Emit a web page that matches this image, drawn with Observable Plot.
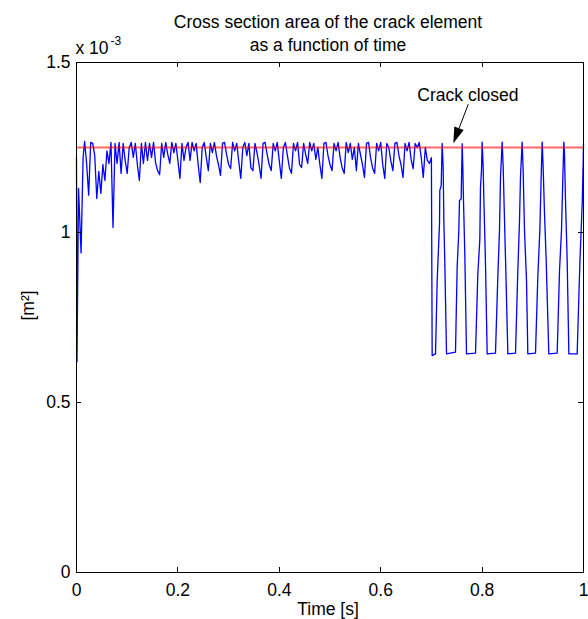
<!DOCTYPE html>
<html><head><meta charset="utf-8">
<script src="https://cdn.jsdelivr.net/npm/d3@7"></script>
<script src="https://cdn.jsdelivr.net/npm/@observablehq/plot@0.6"></script>
<style>html,body{margin:0;padding:0;background:#fff;} svg{display:block}</style>
</head><body><div id="chart"></div>
<script>
// ---- data (area in units of 10^-3 m^2, time in s) ----
const startTime = [0, 0.001, 0.004, 0.009, 0.013];
const startArea = [1.218, 0.62, 1.13, 0.94, 1.22];

const noiseTime = [
0.016,0.020,0.024,0.028,0.032,0.036,0.040,0.044,0.048,0.052,
0.056,0.060,0.064,0.068,0.072,0.076,0.080,0.084,0.088,0.092,
0.096,0.100,0.104,0.108,0.112,0.116,0.120,0.124,0.128,0.132,
0.136,0.140,0.144,0.148,0.152,0.156,0.160,0.164,0.168,0.172,
0.176,0.180,0.184,0.188,0.192,0.196,0.200,0.204,0.208,0.212,
0.216,0.220,0.224,0.228,0.232,0.236,0.240,0.244,0.248,0.252,
0.256,0.260,0.264,0.268,0.272,0.276,0.280,0.284,0.288,0.292,
0.296,0.300,0.304,0.308,0.312,0.316,0.320,0.324,0.328,0.332,
0.336,0.340,0.344,0.348,0.352,0.356,0.360,0.364,0.368,0.372,
0.376,0.380,0.384,0.388,0.392,0.396,0.400,0.404,0.408,0.412,
0.416,0.420,0.424,0.428,0.432,0.436,0.440,0.444,0.448,0.452,
0.456,0.460,0.464,0.468,0.472,0.476,0.480,0.484,0.488,0.492,
0.496,0.500,0.504,0.508,0.512,0.516,0.520,0.524,0.528,0.532,
0.536,0.540,0.544,0.548,0.552,0.556,0.560,0.564,0.568,0.572,
0.576,0.580,0.584,0.588,0.592,0.596,0.600,0.604,0.608,0.612,
0.616,0.620,0.624,0.628,0.632,0.636,0.640,0.644,0.648,0.652,
0.656,0.660,0.664,0.668,0.672,0.676,0.680,0.684,0.688,0.692,
0.696,0.700];
const noiseArea = [
1.268,1.203,1.11,1.265,1.262,1.226,1.10,1.18,1.115,1.20,
1.153,1.24,1.203,1.265,1.015,1.262,1.203,1.265,1.174,1.262,
1.212,1.174,1.25,1.265,1.221,1.262,1.20,1.153,1.262,1.203,
1.265,1.212,1.262,1.221,1.265,1.205,1.182,1.17,1.262,1.221,
1.265,1.23,1.203,1.265,1.235,1.262,1.212,1.159,1.262,1.212,
1.25,1.265,1.212,1.265,1.24,1.262,1.20,1.147,1.25,1.265,
1.22,1.182,1.262,1.235,1.265,1.226,1.20,1.168,1.262,1.265,
1.23,1.20,1.188,1.265,1.24,1.262,1.21,1.159,1.25,1.265,
1.226,1.262,1.19,1.182,1.262,1.235,1.20,1.159,1.262,1.265,
1.23,1.20,1.182,1.262,1.24,1.265,1.21,1.159,1.25,1.265,
1.226,1.19,1.174,1.262,1.24,1.265,1.20,1.191,1.262,1.23,
1.203,1.265,1.24,1.262,1.215,1.25,1.20,1.159,1.262,1.265,
1.226,1.20,1.182,1.262,1.24,1.265,1.22,1.19,1.174,1.265,
1.235,1.262,1.215,1.25,1.182,1.262,1.23,1.20,1.162,1.262,
1.265,1.22,1.19,1.174,1.262,1.24,1.265,1.20,1.159,1.262,
1.25,1.21,1.182,1.262,1.265,1.226,1.20,1.162,1.262,1.24,
1.265,1.215,1.188,1.262,1.25,1.265,1.22,1.162,1.25,1.212,
1.203,1.22];

const cycleTime = [
0.7015,0.7081,0.7114,0.7160,0.7166,0.7193,0.7212,
0.7232,0.7245,0.7265,0.7298,0.7475,0.7508,0.7541,0.7554,0.7587,0.7607,
0.7620,0.7633,0.7659,0.7692,0.7870,0.7916,0.7955,0.7968,0.7988,0.8001,
0.8021,0.8034,0.8067,0.8100,0.8264,0.8310,0.8343,0.8363,0.8396,
0.8416,0.8442,0.8468,0.8508,0.8659,0.8705,0.8738,0.8757,0.8790,
0.8810,0.8836,0.8876,0.8902,0.9053,0.9099,0.9139,0.9165,0.9185,
0.9204,0.9231,0.9264,0.9316,0.9481,0.9527,0.9566,0.9593,0.9612,
0.9625,0.9645,0.9678,0.9711,0.9875,0.9928,0.9974,0.9993,1.0];
const cycleArea = [
0.638,0.643,0.859,1.026,1.124,1.138,1.262,
1.192,1.040,0.908,0.643,0.648,0.898,1.006,1.094,1.099,1.261,
1.192,1.094,0.937,0.643,0.645,0.879,0.979,1.133,1.182,1.266,
1.192,1.104,0.908,0.643,0.645,0.869,1.006,1.163,1.266,
1.192,1.035,0.888,0.643,0.645,0.888,1.035,1.163,1.266,
1.182,1.006,0.859,0.643,0.645,0.869,1.006,1.163,1.266,
1.192,1.055,0.918,0.643,0.645,0.888,1.006,1.163,1.266,
1.231,1.094,0.918,0.643,0.643,0.908,1.084,1.202,1.261];

const threshold = [1.25];
const xTicks = [0, 0.2, 0.4, 0.6, 0.8, 1];
const yTicks = [0, 0.5, 1, 1.5];
const titleText = "Cross section area of the crack element\nas a function of time";
const xLabel = "Time [s]";
const yLabel = "[m²]";
const annotationText = "Crack closed";
const annotationPos = {time: 0.772, area: 1.403};
const arrowFrom = {time: 0.7738, area: 1.376};
const arrowTo = {time: 0.7442, area: 1.261};

const times = [...startTime, ...noiseTime, ...cycleTime];
const areas = [...startArea, ...noiseArea, ...cycleArea];
const series = times.map((t, i) => ({time: t, area: areas[i]}));

function arrowRender(index, scales, values, dimensions, context) {
  const x1 = scales.x(arrowFrom.time), y1 = scales.y(arrowFrom.area);
  const x2 = scales.x(arrowTo.time), y2 = scales.y(arrowTo.area);
  const a = Math.atan2(y2 - y1, x2 - x1);
  const L = 16, W = 5;
  const bx = x2 - L * Math.cos(a), by = y2 - L * Math.sin(a);
  const g = d3.create("svg:g");
  g.append("line").attr("x1", x1).attr("y1", y1).attr("x2", bx).attr("y2", by)
    .attr("stroke", "black").attr("stroke-width", 1);
  g.append("polygon")
    .attr("points", [[x2, y2], [bx - W * Math.sin(a), by + W * Math.cos(a)], [bx + W * Math.sin(a), by - W * Math.cos(a)]].map(p => p.join(",")).join(" "))
    .attr("fill", "black");
  return g.node();
}

// inward MATLAB-style ticks on all four sides, placed by the scales
function ticksRender(index, scales, values, dimensions, context) {
  const {marginLeft: l, marginTop: t, width, height, marginRight: r, marginBottom: b} = dimensions;
  const xa = l, xb = width - r, ya = t, yb = height - b;
  const K = 5;
  const g = d3.create("svg:g").attr("fill", "none").attr("stroke", "#000").attr("stroke-width", 1);
  for (const v of xTicks) {
    const x = Math.round(scales.x(v)) + 0.5;
    g.append("path").attr("d", `M${x},${yb}V${yb - K}M${x},${ya}V${ya + K}`);
  }
  for (const v of yTicks) {
    const y = Math.round(scales.y(v)) + 0.5;
    g.append("path").attr("d", `M${xa},${y}H${xa + K}M${xb},${y}H${xb - K}`);
  }
  return g.node();
}

const fmt = d => String(d);

const chart = Plot.plot({
  width: 588, height: 619,
  marginLeft: 76, marginRight: 5, marginTop: 62, marginBottom: 47,
  style: {fontFamily: "'Liberation Sans', Arial, sans-serif", fontSize: "17.5px", background: "white", color: "black", overflow: "visible"},
  x: {domain: [0, 1]},
  y: {domain: [0, 1.5]},
  marks: [
    Plot.line(series, {x: "time", y: "area", stroke: "#0000ff", strokeWidth: 1.3}),
    Plot.ruleY(threshold, {stroke: "#ff0000", strokeOpacity: 0.6, strokeWidth: 2}),
    Plot.frame({stroke: "black"}),
    ticksRender,
    Plot.axisX(xTicks, {anchor: "bottom", tickSize: 0, tickPadding: 11, tickFormat: fmt, label: null}),
    Plot.axisY(yTicks, {anchor: "left", tickSize: 0, tickPadding: 6, tickFormat: fmt, label: null}),
    Plot.text([titleText], {frameAnchor: "top", dy: -12, dx: -2, lineAnchor: "bottom", lineHeight: 1.28}),
    Plot.text(["x 10"], {frameAnchor: "top-left", textAnchor: "start", lineAnchor: "bottom", dy: -9, dx: -1}),
    Plot.text(["-3"], {frameAnchor: "top-left", textAnchor: "start", lineAnchor: "bottom", dy: -18, dx: 34, fontSize: 12}),
    Plot.text([xLabel], {frameAnchor: "bottom", lineAnchor: "bottom", dy: 42, dx: -2}),
    Plot.text([yLabel], {frameAnchor: "left", lineAnchor: "bottom", rotate: -90, dx: -43, dy: 3}),
    Plot.text([annotationText], {x: () => annotationPos.time, y: () => annotationPos.area, lineAnchor: "middle"}),
    arrowRender
  ]
});
document.getElementById("chart").appendChild(chart);
</script>
</body></html>
